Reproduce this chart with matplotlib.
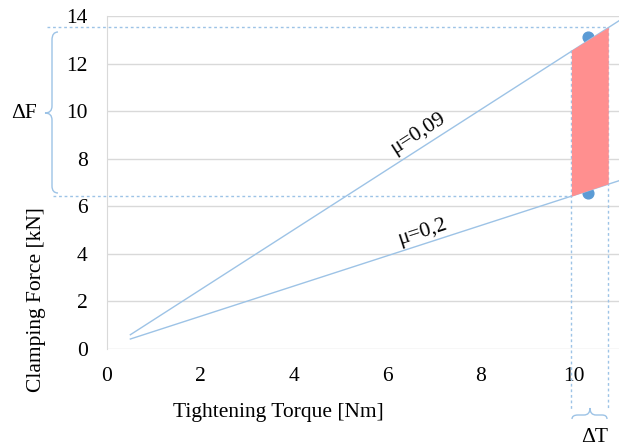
import matplotlib
matplotlib.use("Agg")
import matplotlib.pyplot as plt
from matplotlib.path import Path
from matplotlib.patches import PathPatch

plt.rcParams["font.family"] = ["Liberation Serif", "DejaVu Serif"]

# line endpoints
torque = [0.5, 11.0]
force_mu009 = [0.6, 13.85]
force_mu02 = [0.42, 7.1]
line_labels = ["μ=0,09", "μ=0,2"]

# scatter band at the target torque
band_torque = [9.94, 10.73]
band_upper = [12.56, 13.53]
band_lower = [6.43, 6.95]
dot_torque = [10.3, 10.3]
dot_force = [13.1, 6.55]

x_ticks = [0, 2, 4, 6, 8, 10]
y_ticks = [0, 2, 4, 6, 8, 10, 12, 14]

W, H = 619, 448
LINE = "#9DC3E6"
GRID = "#D9D9D9"
FS = 15.5

fig = plt.figure(figsize=(W / 100, H / 100), dpi=100)
ax = fig.add_axes([107 / W, (H - 349) / H, (W - 107) / W, 333 / H])
ax.set_xlim(0, 10.96)
ax.set_ylim(0, 14)

ax.plot(torque, force_mu009, color=LINE, lw=1, zorder=3)
ax.plot(torque, force_mu02, color=LINE, lw=1, zorder=3)
ax.scatter(dot_torque, dot_force, s=60, color="#5B9BD5", zorder=2)
ax.fill_between(band_torque, band_lower, band_upper, color="#FF8F8F",
                lw=0, zorder=4)

# guide lines out to the braces
dot = dict(color=LINE, lw=1, ls=(0, (2, 2)), clip_on=False, zorder=1)
ax.plot([-1.28, band_torque[1]], [band_upper[1]] * 2, **dot)
ax.plot([-1.16, band_torque[0]], [band_lower[0]] * 2, **dot)
ax.plot([band_torque[0]] * 2, [band_upper[0], -2.56], **dot)
ax.plot([band_torque[1]] * 2, [band_upper[1], -2.56], **dot)

ax.text(6.66, 9.07, line_labels[0], rotation=32.5, fontsize=FS,
        ha="center", va="center")
ax.text(6.75, 4.92, line_labels[1], rotation=18, fontsize=FS,
        ha="center", va="center")

ax.set_xticks(x_ticks)
ax.set_yticks(y_ticks)
ax.tick_params(length=0, labelsize=FS)
ax.tick_params(axis="x", pad=13)
ax.tick_params(axis="y", pad=14)
ax.grid(axis="y", color=GRID, lw=1)
for side in ["top", "right", "bottom"]:
    ax.spines[side].set_visible(False)
ax.spines["left"].set_color(GRID)
ax.set_axisbelow(True)

fig.text(278 / W, 1 - 412 / H, "Tightening Torque [Nm]", fontsize=FS,
         ha="center", va="center")
fig.text(37 / W, 1 - 300 / H, "Clamping Force [kN]", fontsize=FS,
         rotation=90, ha="center", va="center")


def px(x, y):
    return (x / W, 1 - y / H)


def brace(points):
    codes = [Path.MOVETO, Path.CURVE3, Path.CURVE3, Path.LINETO,
             Path.CURVE3, Path.CURVE3, Path.CURVE3, Path.CURVE3,
             Path.LINETO, Path.CURVE3, Path.CURVE3]
    verts = [px(*p) for p in points]
    fig.add_artist(PathPatch(Path(verts, codes), fill=False, ec=LINE,
                             lw=1, transform=fig.transFigure))


# vertical brace for ΔF
brace([(58, 32), (52, 32), (52, 40), (52, 106), (52, 113), (45, 113),
       (52, 113), (52, 120), (52, 186), (52, 193), (58, 193)])
fig.text(24 / W, 1 - 113 / H, "ΔF", fontsize=FS, ha="center", va="center")

# horizontal brace for ΔT
brace([(572, 419), (572, 415), (578, 415), (584, 415), (590, 415),
       (590, 408), (590, 415), (596, 415), (602, 415), (607, 415),
       (607, 419)])
fig.text(595 / W, 1 - 437 / H, "ΔT", fontsize=FS, ha="center", va="center")

fig.savefig("out.png", dpi=100)
